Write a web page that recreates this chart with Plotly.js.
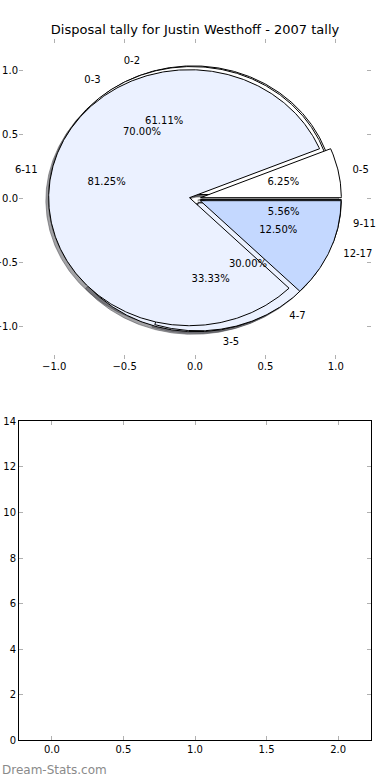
<!DOCTYPE html>
<html><head><meta charset="utf-8">
<script src="https://cdn.plot.ly/plotly-3.0.1.min.js"></script>
<style>html,body{margin:0;padding:0;background:#fff}#chart{width:390px;height:780px}</style>
</head><body><div id="chart"></div>
<script>
const titleText = 'Disposal tally for Justin Westhoff - 2007 tally';
const pieA_labels = ['0-2', '3-5', '9-11'];
const pieA_counts = [11, 6, 1];
const pieB_labels = ['0-3', '4-7'];
const pieB_counts = [7, 3];
const pieC_labels = ['0-5', '6-11', '12-17'];
const pieC_counts = [1, 13, 2];
const sliceColors = ['#ffffff', '#ebf1ff', '#c4d8ff'];
const pieTicks = [-1.0, -0.5, 0.0, 0.5, 1.0];
const barXTicks = [0.0, 0.5, 1.0, 1.5, 2.0];
const barYTicks = [0, 2, 4, 6, 8, 10, 12, 14];
const watermark = 'Dream-Stats.com';

const EXPLODE = 0.04, SHADOW_OFF = -0.02, LABEL_R = 1.1, PCT_R = 0.6;
const FONT = 'DejaVu Sans, sans-serif';

function hexToRgb(h) { return [1,3,5].map(i => parseInt(h.substr(i,2),16)); }

function buildWedges(labels, counts) {
  const total = counts.reduce((a, b) => a + b, 0);
  let start = 0;
  const out = [];
  counts.forEach((c, i) => {
    const frac = c / total;
    const t1 = start * 360, t2 = (start + frac) * 360;
    const tm = (t1 + t2) / 2 * Math.PI / 180;
    const cx = EXPLODE * Math.cos(tm), cy = EXPLODE * Math.sin(tm);
    const xs = [cx], ys = [cy];
    const n = Math.max(4, Math.ceil((t2 - t1) * 2));
    for (let k = 0; k <= n; k++) {
      const a = (t1 + (t2 - t1) * k / n) * Math.PI / 180;
      xs.push(cx + Math.cos(a)); ys.push(cy + Math.sin(a));
    }
    xs.push(cx); ys.push(cy);
    const lx = cx + LABEL_R * Math.cos(tm), ly = cy + LABEL_R * Math.sin(tm);
    out.push({
      label: labels[i], pct: (100 * frac).toFixed(2) + '%', color: sliceColors[i],
      xs, ys, lx, ly,
      pos: lx > 0 ? 'middle right' : 'middle left',
      px: cx + PCT_R * Math.cos(tm), py: cy + PCT_R * Math.sin(tm)
    });
    start += frac;
  });
  return out;
}

const pies = [buildWedges(pieA_labels, pieA_counts), buildWedges(pieB_labels, pieB_counts), buildWedges(pieC_labels, pieC_counts)];
const traces = [];
// shadows first (lower zorder)
pies.forEach(p => p.forEach(w => {
  const rgb = hexToRgb(w.color).map(v => Math.round(v * 0.3));
  const col = `rgba(${rgb[0]},${rgb[1]},${rgb[2]},0.5)`;
  traces.push({type: 'scatter', mode: 'lines', x: w.xs.map(v => v + SHADOW_OFF), y: w.ys.map(v => v + SHADOW_OFF),
    fill: 'toself', fillcolor: col, line: {color: col, width: 1}, hoverinfo: 'skip', xaxis: 'x', yaxis: 'y'});
}));
pies.forEach(p => p.forEach(w => {
  traces.push({type: 'scatter', mode: 'lines', x: w.xs, y: w.ys, fill: 'toself', fillcolor: w.color,
    line: {color: '#000', width: 1}, hoverinfo: 'skip', xaxis: 'x', yaxis: 'y'});
}));
pies.forEach(p => {
  traces.push({type: 'scatter', mode: 'text', x: p.map(w => w.lx), y: p.map(w => w.ly), text: p.map(w => w.label),
    textposition: p.map(w => w.pos), textfont: {family: FONT, size: 10, color: '#000'}, hoverinfo: 'skip',
    cliponaxis: false, xaxis: 'x', yaxis: 'y'});
  traces.push({type: 'scatter', mode: 'text', x: p.map(w => w.px), y: p.map(w => w.py), text: p.map(w => w.pct),
    textposition: 'middle center', textfont: {family: FONT, size: 10, color: '#000'}, hoverinfo: 'skip',
    cliponaxis: false, xaxis: 'x', yaxis: 'y'});
});
// empty lower axes
traces.push({type: 'bar', x: [], y: [], xaxis: 'x2', yaxis: 'y2', hoverinfo: 'skip'});

const tickStyle = {ticks: 'inside', ticklen: 4, tickwidth: 1, tickcolor: '#b0b0b0', showgrid: false, zeroline: false,
  tickfont: {family: FONT, size: 10, color: '#000'}, fixedrange: true};

const layout = {
  width: 390, height: 780, margin: {l: 0, r: 0, t: 0, b: 0}, paper_bgcolor: '#fff', plot_bgcolor: 'rgba(0,0,0,0)',
  showlegend: false, hovermode: false,
  title: {text: titleText, x: 0.5, xanchor: 'center', y: 1 - 29.5 / 780, yanchor: 'middle', font: {family: FONT, size: 13, color: '#000'}},
  xaxis: Object.assign({}, tickStyle, {domain: [19/390, 371/390], range: [-1.25, 1.25], anchor: 'y', tickvals: pieTicks, tickformat: '.1f', showline: false, mirror: 'ticks'}),
  yaxis: Object.assign({}, tickStyle, {domain: [1 - 358.7/780, 1 - 38.7/780], range: [-1.25, 1.25], anchor: 'x', tickvals: pieTicks, tickformat: '.1f', showline: false, mirror: 'ticks'}),
  xaxis2: Object.assign({}, tickStyle, {domain: [19/390, 371/390], range: [-0.23, 2.23], anchor: 'y2', tickvals: barXTicks, tickformat: '.1f', showline: true, linecolor: '#000', linewidth: 1, mirror: 'allticks'}),
  yaxis2: Object.assign({}, tickStyle, {domain: [1 - 740.3/780, 1 - 421.3/780], range: [0, 14], anchor: 'x2', tickvals: barYTicks, showline: true, linecolor: '#000', linewidth: 1, mirror: 'allticks'}),
  annotations: [{text: watermark, xref: 'paper', yref: 'paper', x: 0, xanchor: 'left', y: 1 - 770/780, yanchor: 'middle', showarrow: false,
    font: {family: FONT, size: 12, color: '#8a8a8a'}}]
};

Plotly.newPlot('chart', traces, layout, {staticPlot: true, displayModeBar: false});
</script>
</body></html>
